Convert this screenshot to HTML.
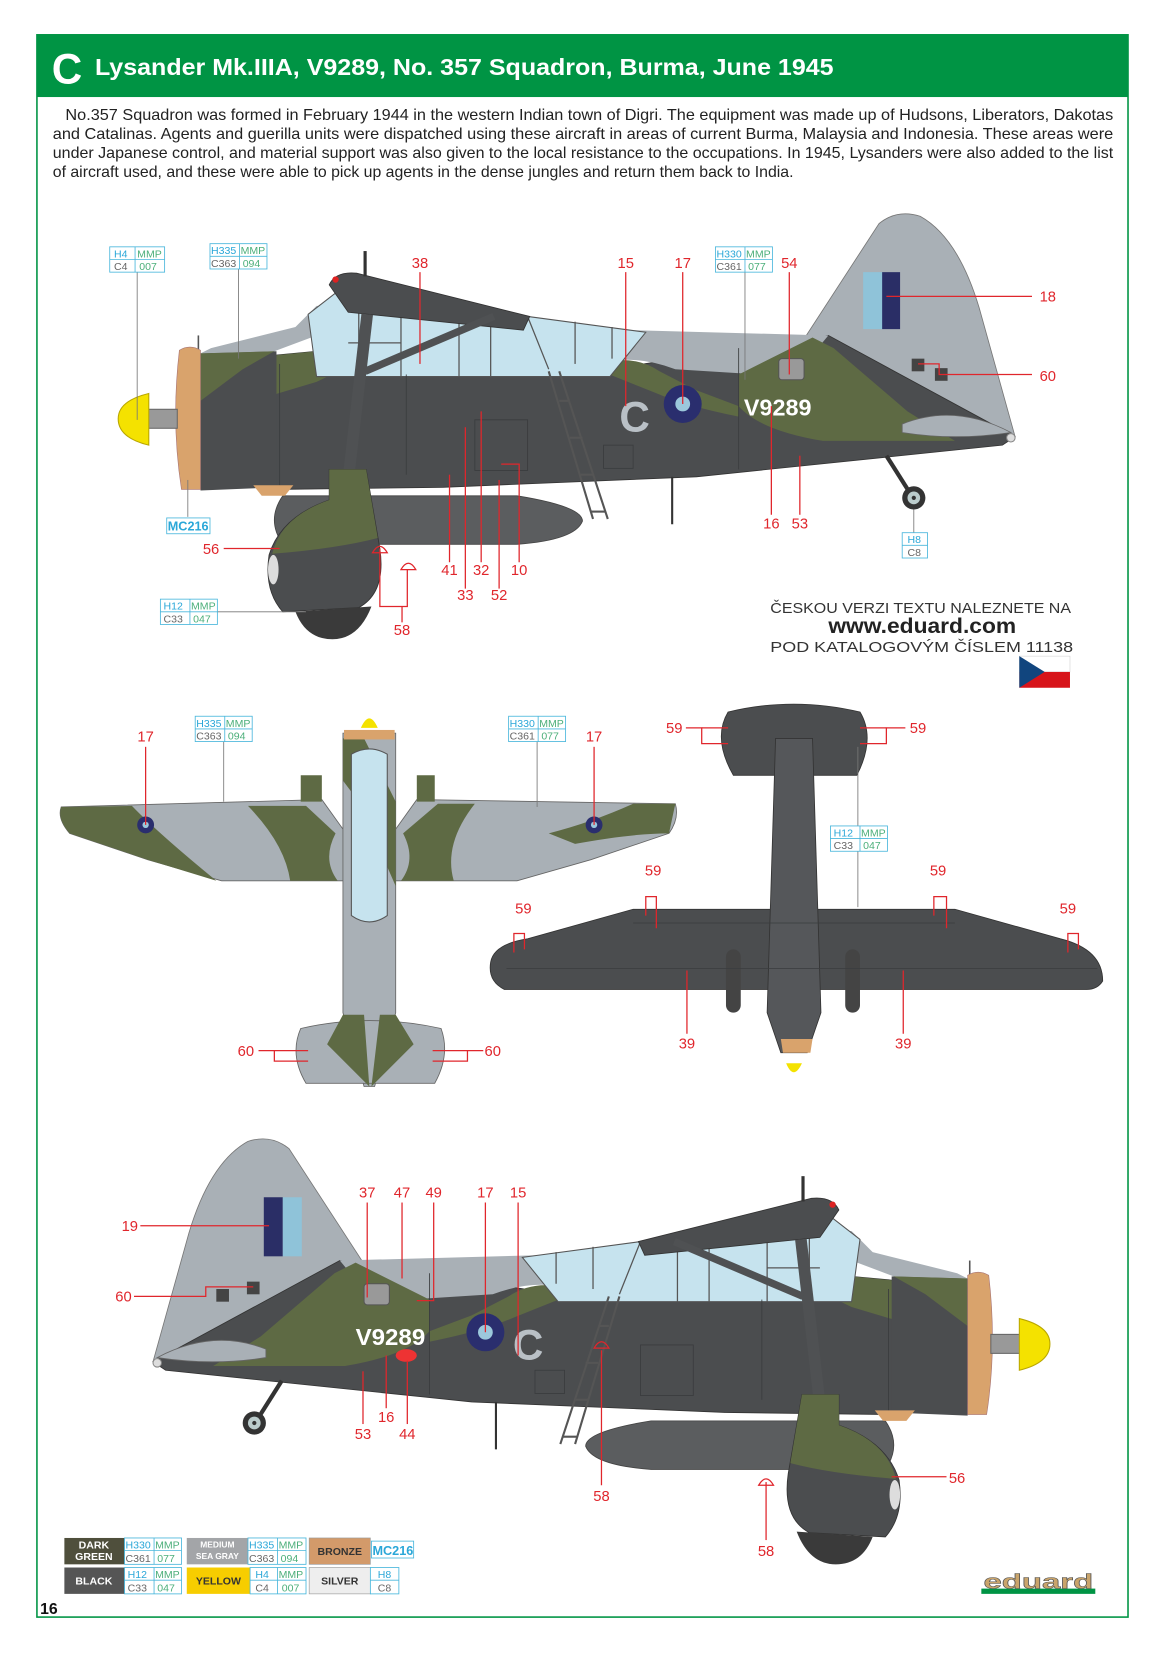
<!DOCTYPE html>
<html><head><meta charset="utf-8"><style>html,body{margin:0;padding:0;background:#fff}svg{display:block}</style></head>
<body>
<svg width="1166" height="1654" viewBox="0 0 1105 1568" preserveAspectRatio="none" xmlns="http://www.w3.org/2000/svg" font-family="Liberation Sans, sans-serif">
<defs>
<g id="side">
  <!-- drop tank -->
  <path d="M268,470 L490,470 Q552,480 552,494 Q545,512 490,516 L268,516 Q252,493 268,470 Z" fill="#5b5d5f" stroke="#444" stroke-width="0.8"/>
  <!-- fin -->
  <path d="M755,332 L833,212 Q850,198 872,205 Q908,225 928,292 L962,414 L890,422 L755,402 Z" fill="#a9b0b6" stroke="#777" stroke-width="0.8"/>
  <!-- fuselage -->
  <path d="M172,345 L300,333 L610,345 L785,318 L962,414 L950,422 L660,452 L420,462 L262,464 L178,452 Z" fill="#4b4d4f" stroke="#333" stroke-width="0.8"/>
  <!-- grey top behind canopy -->
  <path d="M560,312 L785,318 L775,330 L720,355 L640,350 Q600,335 565,345 Z" fill="#a9b0b6"/>
  <!-- green blobs -->
  <path d="M700,355 L770,320 L790,330 L860,390 L905,418 L780,418 Q720,408 700,385 Z" fill="#5e6a44"/>
  <path d="M565,345 Q600,335 625,352 L660,370 L700,385 L700,395 Q650,385 620,372 L570,352 Z" fill="#5e6a44"/>
  <path d="M178,345 L300,333 L360,333 L300,362 L200,392 L178,400 Z" fill="#5e6a44"/>
  <path d="M190,335 L260,333 L300,318 L320,290 L300,290 L280,310 L200,330 Z" fill="#a9b0b6"/>
  <!-- canopy -->
  <path d="M292,298 L328,270 L500,300 L612,315 L578,357 L300,357 Z" fill="#c6e3ee" stroke="#555" stroke-width="1"/>
  <g stroke="#555" stroke-width="1.2" fill="none">
    <line x1="340" y1="290" x2="340" y2="357"/><line x1="380" y1="296" x2="380" y2="357"/>
    <line x1="435" y1="300" x2="435" y2="357"/><line x1="465" y1="300" x2="465" y2="357"/>
    <line x1="500" y1="300" x2="520" y2="350"/><line x1="545" y1="305" x2="545" y2="345"/>
    <line x1="580" y1="310" x2="580" y2="340"/><line x1="330" y1="325" x2="380" y2="325"/>
  </g>
  <!-- upper wing -->
  <path d="M312,270 Q318,257 338,259 L502,300 L496,313 L330,296 Z" fill="#4b4d4f" stroke="#333" stroke-width="0.8"/>
  <circle cx="318" cy="265" r="3" fill="#d22"/>
  <!-- antennas -->
  <line x1="346" y1="238" x2="346" y2="262" stroke="#333" stroke-width="3"/>
  <line x1="637" y1="452" x2="637" y2="497" stroke="#333" stroke-width="2"/>
  <line x1="188" y1="318" x2="188" y2="335" stroke="#555" stroke-width="1.5"/>
  <!-- ladder -->
  <g stroke="#555" stroke-width="2"><line x1="520" y1="352" x2="562" y2="492"/><line x1="530" y1="352" x2="576" y2="492"/>
  <line x1="530" y1="380" x2="540" y2="380"/><line x1="540" y1="415" x2="552" y2="415"/><line x1="550" y1="450" x2="562" y2="450"/><line x1="560" y1="485" x2="574" y2="485"/></g>
  <!-- panels -->
  <g stroke="#3a3c3e" stroke-width="0.8" fill="none">
    <rect x="450" y="398" width="50" height="48"/><rect x="572" y="422" width="28" height="22"/>
    <line x1="385" y1="355" x2="385" y2="450"/><line x1="245" y1="345" x2="245" y2="460"/><line x1="265" y1="345" x2="265" y2="460"/>
    <line x1="700" y1="330" x2="700" y2="445"/>
  </g>
  <!-- strut -->
  <line x1="348" y1="298" x2="330" y2="455" stroke="#4f5153" stroke-width="11"/>
  <line x1="346" y1="352" x2="468" y2="300" stroke="#4f5153" stroke-width="7"/>
  <!-- tailplane -->
  <path d="M855,402 Q905,382 958,410 Q905,418 855,410 Z" fill="#a9b0b6" stroke="#666" stroke-width="0.8"/>
  <circle cx="958" cy="415" r="4" fill="#ddd" stroke="#888"/>
  <!-- exhaust box -->
  <rect x="738" y="340" width="24" height="20" rx="3" fill="#999" stroke="#555"/>
  <!-- tail wheel -->
  <line x1="840" y1="432" x2="864" y2="470" stroke="#333" stroke-width="4"/>
  <circle cx="866" cy="472" r="11" fill="#333"/><circle cx="866" cy="472" r="6" fill="#bcc"/><circle cx="866" cy="472" r="2" fill="#333"/>
  <!-- cowl -->
  <path d="M190,335 L262,333 L262,462 L190,465 Z" fill="#4b4d4f"/>
  <path d="M190,335 L260,333 L230,350 L190,380 Z" fill="#5e6a44"/>
  <path d="M170,332 Q180,326 190,332 L190,464 L172,464 Q162,400 170,332 Z" fill="#d9a36c" stroke="#a77" stroke-width="0.6"/>
  <path d="M240,460 L278,460 L270,470 L248,470 Z" fill="#d9a36c"/>
  <rect x="140" y="388" width="28" height="18" fill="#999" stroke="#666"/>
  <path d="M141,373 Q112,380 112,397 Q112,415 141,422 Z" fill="#f4e200" stroke="#b9a600"/>
  <!-- spat -->
  <path d="M312,445 L347,445 L360,520 Q366,562 340,576 L268,580 Q250,560 255,526 Q266,490 312,474 Z" fill="#4b4d4f" stroke="#333" stroke-width="0.8"/>
  <path d="M312,445 L347,445 L358,510 Q320,520 258,525 Q266,490 312,474 Z" fill="#5e6a44"/>
  <ellipse cx="259" cy="540" rx="5" ry="14" fill="#ddd"/>
  <path d="M280,580 Q290,606 315,606 Q340,606 352,575 Z" fill="#3a3a3a"/>
</g>
</defs>

<rect x="0" y="0" width="1105" height="1568" fill="#fff"/>
<rect x="35" y="33" width="1034" height="1500" fill="none" stroke="#009444" stroke-width="1.5"/>
<rect x="35" y="33" width="1034" height="59" fill="#009444"/>
<text x="49" y="79" font-size="40" font-weight="bold" fill="#fff">C</text>
<text x="90" y="71" font-size="22" font-weight="bold" fill="#fff" textLength="700" lengthAdjust="spacingAndGlyphs">Lysander Mk.IIIA, V9289, No. 357 Squadron, Burma, June 1945</text>
<g font-size="14.5" fill="#222">
<text x="62" y="114" textLength="993" lengthAdjust="spacingAndGlyphs">No.357 Squadron was formed in February 1944 in the western Indian town of Digri. The equipment was made up of Hudsons, Liberators, Dakotas</text>
<text x="50" y="132" textLength="1005" lengthAdjust="spacingAndGlyphs">and Catalinas. Agents and guerilla units were dispatched using these aircraft in areas of current Burma, Malaysia and Indonesia. These areas were</text>
<text x="50" y="150" textLength="1005" lengthAdjust="spacingAndGlyphs">under Japanese control, and material support was also given to the local resistance to the occupations. In 1945, Lysanders were also added to the list</text>
<text x="50" y="168" textLength="702" lengthAdjust="spacingAndGlyphs">of aircraft used, and these were able to pick up agents in the dense jungles and return them back to India.</text>
</g>

<!-- top side view -->
<use href="#side"/>
<rect x="818" y="258" width="20" height="54" fill="#8fc3d9"/><rect x="836" y="258" width="17" height="54" fill="#2a2e66"/>
<rect x="864" y="340" width="12" height="12" fill="#444"/><rect x="886" y="349" width="12" height="12" fill="#444"/>
<text x="587" y="409" font-size="40" fill="#b9c0c6" font-weight="bold">C</text>
<circle cx="647" cy="383" r="18" fill="#2a2e6e"/><circle cx="647" cy="383" r="7" fill="#9cc8dc"/>
<text x="705" y="394" font-size="22" font-weight="bold" fill="#fff" textLength="64" lengthAdjust="spacingAndGlyphs">V9289</text>

<!-- bottom side view (mirrored) -->
<g transform="translate(1107,877) scale(-1,1)"><use href="#side"/></g>
<rect x="250" y="1135" width="18" height="56" fill="#2a2e66"/><rect x="268" y="1135" width="18" height="56" fill="#8fc3d9"/>
<rect x="205" y="1222" width="12" height="12" fill="#444"/><rect x="234" y="1215" width="12" height="12" fill="#444"/>
<text x="486" y="1289" font-size="40" fill="#b9c0c6" font-weight="bold">C</text>
<circle cx="460" cy="1263" r="18" fill="#2a2e6e"/><circle cx="460" cy="1263" r="7" fill="#9cc8dc"/>
<text x="337" y="1275" font-size="22" font-weight="bold" fill="#fff" textLength="66" lengthAdjust="spacingAndGlyphs">V9289</text>
<ellipse cx="385" cy="1285" rx="10" ry="6" fill="#e33"/>

<!-- top view (left) -->
<path d="M58,765 L305,758 L335,800 L365,800 L395,758 L640,762 Q644,776 634,790 L560,815 L490,835 L210,835 L140,815 L66,790 Q54,776 58,765 Z" fill="#a9b0b6" stroke="#666" stroke-width="0.8"/>
<g fill="#5e6a44">
<path d="M58,765 L125,764 Q150,790 205,835 L140,815 L66,790 Q54,776 58,765 Z"/>
<path d="M235,764 L290,764 L318,790 Q305,815 320,835 L275,835 Q270,800 235,764 Z"/>
<path d="M640,762 L600,762 Q560,780 520,790 L545,800 Q600,790 634,790 Z"/>
<path d="M450,762 L415,762 L382,790 Q395,815 380,835 L430,835 Q420,800 450,762 Z"/>
<path d="M285,735 L305,735 L305,760 L285,760 Z"/><path d="M395,735 L412,735 L412,760 L395,760 Z"/>
</g>
<path d="M325,695 L375,695 L375,960 L355,1030 L345,1030 L325,960 Z" fill="#a9b0b6" stroke="#666" stroke-width="0.8"/>
<path d="M325,700 L345,700 L375,760 L375,840 L340,760 L325,740 Z" fill="#5e6a44"/>
<path d="M285,975 Q350,960 418,975 Q427,1000 412,1027 L290,1027 Q274,1000 285,975 Z" fill="#a9b0b6" stroke="#666" stroke-width="0.8"/>
<path d="M325,962 L345,962 L350,1030 L310,990 Z M375,962 L360,962 L352,1030 L392,990 Z" fill="#5e6a44"/>
<path d="M333,715 Q350,705 367,715 L367,868 Q350,880 333,868 Z" fill="#c6e3ee" stroke="#555"/>
<rect x="326" y="692" width="48" height="9" fill="#d9a36c"/>
<path d="M342,690 Q350,672 358,690 Z" fill="#f4e200"/>
<circle cx="138" cy="782" r="8" fill="#2a2e6e"/><circle cx="138" cy="782" r="3" fill="#9cc8dc"/>
<circle cx="563" cy="782" r="8" fill="#2a2e6e"/><circle cx="563" cy="782" r="3" fill="#9cc8dc"/>

<!-- bottom view (right) -->
<path d="M690,675 Q752,660 815,675 Q830,700 812,735 L695,735 Q675,700 690,675 Z" fill="#4b4d4f" stroke="#333" stroke-width="0.8"/>
<path d="M465,912 Q468,895 500,890 L600,862 L905,862 L1005,890 Q1045,900 1045,930 Q1040,938 1030,938 L478,938 Q462,930 465,912 Z" fill="#4b4d4f" stroke="#333" stroke-width="0.8"/>
<path d="M735,700 L770,700 L778,960 L765,998 L740,998 L727,960 Z" fill="#55575a" stroke="#333" stroke-width="0.8"/>
<rect x="688" y="900" width="14" height="60" rx="7" fill="#444"/><rect x="801" y="900" width="14" height="60" rx="7" fill="#444"/>
<g stroke="#3a3c3e" stroke-width="0.7"><line x1="480" y1="918" x2="1040" y2="918"/><line x1="600" y1="875" x2="905" y2="875"/></g>
<path d="M740,985 L770,985 L768,998 L742,998 Z" fill="#d9a36c"/>
<path d="M745,1008 Q752,1025 760,1008 Z" fill="#f4e200"/>

<!-- callouts -->
<g stroke="#e0262c" stroke-width="1.2" fill="none">
<line x1="398" y1="258" x2="398" y2="345"/><line x1="593" y1="258" x2="593" y2="385"/><line x1="647" y1="258" x2="647" y2="383"/>
<line x1="748" y1="258" x2="748" y2="355"/><line x1="840" y1="281" x2="978" y2="281"/>
<polyline points="870,345 890,345 890,355 978,355"/>
<line x1="731" y1="488" x2="731" y2="385"/><line x1="758" y1="488" x2="758" y2="432"/>
<line x1="426" y1="533" x2="426" y2="450"/><line x1="456" y1="533" x2="456" y2="390"/><polyline points="492,533 492,440 475,440"/>
<line x1="441" y1="558" x2="441" y2="405"/><line x1="473" y1="558" x2="473" y2="455"/>
<line x1="212" y1="520" x2="265" y2="520"/>
<polyline points="360,520 360,575 386,575 386,540"/><line x1="381" y1="575" x2="381" y2="590"/>
<line x1="138" y1="708" x2="138" y2="782"/><line x1="563" y1="708" x2="563" y2="782"/>
<polyline points="245,996 260,996 260,1006 292,1006"/><line x1="260" y1="996" x2="292" y2="996"/>
<polyline points="458,996 443,996 443,1006 410,1006"/><line x1="443" y1="996" x2="410" y2="996"/>
<polyline points="650,690 665,690 665,705 690,705"/><line x1="665" y1="690" x2="690" y2="690"/>
<polyline points="858,690 840,690 840,705 815,705"/><line x1="840" y1="690" x2="815" y2="690"/>
<polyline points="612,868 612,850 622,850 622,880"/><polyline points="487,903 487,885 497,885 497,900"/>
<polyline points="885,868 885,850 897,850 897,880"/><polyline points="1012,903 1012,885 1022,885 1022,900"/>
<line x1="651" y1="980" x2="651" y2="920"/><line x1="856" y1="980" x2="856" y2="920"/>
<line x1="133" y1="1162" x2="255" y2="1162"/><polyline points="127,1229 195,1229 195,1220 240,1220"/>
<line x1="348" y1="1140" x2="348" y2="1230"/><line x1="381" y1="1140" x2="381" y2="1212"/><polyline points="411,1140 411,1233 395,1233"/>
<line x1="460" y1="1140" x2="460" y2="1263"/><line x1="491" y1="1140" x2="491" y2="1285"/>
<line x1="344" y1="1350" x2="344" y2="1300"/><line x1="366" y1="1335" x2="366" y2="1285"/><line x1="386" y1="1350" x2="386" y2="1290"/>
<line x1="570" y1="1408" x2="570" y2="1280"/><line x1="726" y1="1460" x2="726" y2="1405"/><line x1="897" y1="1400" x2="845" y2="1400"/>
<path d="M353,524 Q360,512 367,524 Z M380,540 Q387,528 394,540 Z M563,1278 Q570,1266 577,1278 Z M719,1408 Q726,1396 733,1408 Z"/>
</g>
<g fill="#e0262c" font-size="14" text-anchor="middle">
<text x="398" y="254">38</text><text x="593" y="254">15</text><text x="647" y="254">17</text><text x="748" y="254">54</text>
<text x="993" y="286">18</text><text x="993" y="361">60</text><text x="731" y="501">16</text><text x="758" y="501">53</text>
<text x="426" y="545">41</text><text x="456" y="545">32</text><text x="492" y="545">10</text><text x="441" y="569">33</text><text x="473" y="569">52</text>
<text x="200" y="525">56</text><text x="381" y="602">58</text>
<text x="138" y="703">17</text><text x="563" y="703">17</text><text x="233" y="1001">60</text><text x="467" y="1001">60</text>
<text x="639" y="695">59</text><text x="870" y="695">59</text><text x="619" y="830">59</text><text x="496" y="866">59</text>
<text x="889" y="830">59</text><text x="1012" y="866">59</text><text x="651" y="994">39</text><text x="856" y="994">39</text>
<text x="123" y="1167">19</text><text x="117" y="1234">60</text><text x="348" y="1135">37</text><text x="381" y="1135">47</text>
<text x="411" y="1135">49</text><text x="460" y="1135">17</text><text x="491" y="1135">15</text>
<text x="344" y="1364">53</text><text x="366" y="1348">16</text><text x="386" y="1364">44</text>
<text x="570" y="1423">58</text><text x="726" y="1475">58</text><text x="907" y="1406">56</text>
</g>

<!-- code leader lines -->
<g stroke="#777" stroke-width="0.8">
<line x1="130" y1="258" x2="130" y2="398"/><line x1="226" y1="255" x2="226" y2="340"/><line x1="706" y1="258" x2="706" y2="360"/>
<line x1="178" y1="455" x2="178" y2="490"/><line x1="205" y1="580" x2="290" y2="580"/><line x1="866" y1="483" x2="866" y2="505"/>
<line x1="212" y1="703" x2="212" y2="760"/><line x1="509" y1="703" x2="509" y2="765"/><line x1="813" y1="708" x2="813" y2="860"/>
</g>

<!-- code boxes -->
<g font-size="10" stroke-width="0.8">
<g transform="translate(104,234)"><rect width="52" height="24" fill="#fff" stroke="#4ab7dc"/><line x1="24" y1="0" x2="24" y2="24" stroke="#4ab7dc"/><line x1="0" y1="12" x2="52" y2="12" stroke="#4ab7dc"/><text x="4" y="10" fill="#2aa7d8">H4</text><text x="26" y="10" fill="#4caf7a">MMP</text><text x="4" y="22" fill="#666">C4</text><text x="28" y="22" fill="#4caf7a">007</text></g>
<g transform="translate(199,231)"><rect width="54" height="24" fill="#fff" stroke="#4ab7dc"/><line x1="28" y1="0" x2="28" y2="24" stroke="#4ab7dc"/><line x1="0" y1="12" x2="54" y2="12" stroke="#4ab7dc"/><text x="1" y="10" fill="#2aa7d8">H335</text><text x="29" y="10" fill="#4caf7a">MMP</text><text x="1" y="22" fill="#666">C363</text><text x="31" y="22" fill="#4caf7a">094</text></g>
<g transform="translate(678,234)"><rect width="54" height="24" fill="#fff" stroke="#4ab7dc"/><line x1="28" y1="0" x2="28" y2="24" stroke="#4ab7dc"/><line x1="0" y1="12" x2="54" y2="12" stroke="#4ab7dc"/><text x="1" y="10" fill="#2aa7d8">H330</text><text x="29" y="10" fill="#4caf7a">MMP</text><text x="1" y="22" fill="#666">C361</text><text x="31" y="22" fill="#4caf7a">077</text></g>
<g transform="translate(152,568)"><rect width="54" height="24" fill="#fff" stroke="#4ab7dc"/><line x1="28" y1="0" x2="28" y2="24" stroke="#4ab7dc"/><line x1="0" y1="12" x2="54" y2="12" stroke="#4ab7dc"/><text x="3" y="10" fill="#2aa7d8">H12</text><text x="29" y="10" fill="#4caf7a">MMP</text><text x="3" y="22" fill="#666">C33</text><text x="31" y="22" fill="#4caf7a">047</text></g>
<g transform="translate(855,505)"><rect width="24" height="24" fill="#fff" stroke="#4ab7dc"/><line x1="0" y1="12" x2="24" y2="12" stroke="#4ab7dc"/><text x="5" y="10" fill="#2aa7d8">H8</text><text x="5" y="22" fill="#666">C8</text></g>
<g transform="translate(185,679)"><rect width="54" height="24" fill="#fff" stroke="#4ab7dc"/><line x1="28" y1="0" x2="28" y2="24" stroke="#4ab7dc"/><line x1="0" y1="12" x2="54" y2="12" stroke="#4ab7dc"/><text x="1" y="10" fill="#2aa7d8">H335</text><text x="29" y="10" fill="#4caf7a">MMP</text><text x="1" y="22" fill="#666">C363</text><text x="31" y="22" fill="#4caf7a">094</text></g>
<g transform="translate(482,679)"><rect width="54" height="24" fill="#fff" stroke="#4ab7dc"/><line x1="28" y1="0" x2="28" y2="24" stroke="#4ab7dc"/><line x1="0" y1="12" x2="54" y2="12" stroke="#4ab7dc"/><text x="1" y="10" fill="#2aa7d8">H330</text><text x="29" y="10" fill="#4caf7a">MMP</text><text x="1" y="22" fill="#666">C361</text><text x="31" y="22" fill="#4caf7a">077</text></g>
<g transform="translate(787,783)"><rect width="54" height="24" fill="#fff" stroke="#4ab7dc"/><line x1="28" y1="0" x2="28" y2="24" stroke="#4ab7dc"/><line x1="0" y1="12" x2="54" y2="12" stroke="#4ab7dc"/><text x="3" y="10" fill="#2aa7d8">H12</text><text x="29" y="10" fill="#4caf7a">MMP</text><text x="3" y="22" fill="#666">C33</text><text x="31" y="22" fill="#4caf7a">047</text></g>
</g>
<text x="159" y="503" font-size="12" font-weight="bold" fill="#2aa7d8">MC216</text>
<rect x="158" y="491" width="41" height="15" fill="none" stroke="#4ab7dc" stroke-width="0.8"/>

<!-- Czech note -->
<text x="730" y="581" font-size="14" fill="#333" textLength="285" lengthAdjust="spacingAndGlyphs">ČESKOU VERZI TEXTU NALEZNETE NA</text>
<text x="785" y="600" font-size="20" font-weight="bold" fill="#222" textLength="178" lengthAdjust="spacingAndGlyphs">www.eduard.com</text>
<text x="730" y="618" font-size="14" fill="#333" textLength="287" lengthAdjust="spacingAndGlyphs">POD KATALOGOVÝM ČÍSLEM 11138</text>
<rect x="966" y="622" width="48" height="15" fill="#fff" stroke="#ccc" stroke-width="0.5"/><rect x="966" y="637" width="48" height="15" fill="#d7141a"/>
<path d="M966,622 L990,637 L966,652 Z" fill="#11457e"/>

<!-- legend -->
<g font-size="10" font-weight="bold" text-anchor="middle">
<rect x="61" y="1458" width="57" height="25" fill="#4f4f3c"/><text x="89" y="1468" fill="#fff">DARK</text><text x="89" y="1479" fill="#fff">GREEN</text>
<rect x="177" y="1458" width="58" height="25" fill="#a3a5a8"/><text x="206" y="1467" fill="#fff" font-size="8">MEDIUM</text><text x="206" y="1478" fill="#fff" font-size="8">SEA GRAY</text>
<rect x="293" y="1458" width="58" height="25" fill="#d39a6a" stroke="#999" stroke-width="0.6"/><text x="322" y="1474" fill="#333">BRONZE</text>
<rect x="61" y="1486" width="57" height="25" fill="#555"/><text x="89" y="1502" fill="#fff">BLACK</text>
<rect x="177" y="1486" width="60" height="25" fill="#f7cd00"/><text x="207" y="1502" fill="#333">YELLOW</text>
<rect x="293" y="1486" width="58" height="25" fill="#eee" stroke="#999" stroke-width="0.6"/><text x="322" y="1502" fill="#333">SILVER</text>
</g>
<g font-size="10" stroke-width="0.8">
<g transform="translate(118,1458)"><rect width="54" height="25" fill="#fff" stroke="#4ab7dc"/><line x1="28" y1="0" x2="28" y2="25" stroke="#4ab7dc"/><line x1="0" y1="12" x2="54" y2="12" stroke="#4ab7dc"/><text x="1" y="10" fill="#2aa7d8">H330</text><text x="29" y="10" fill="#4caf7a">MMP</text><text x="1" y="23" fill="#666">C361</text><text x="31" y="23" fill="#4caf7a">077</text></g>
<g transform="translate(235,1458)"><rect width="55" height="25" fill="#fff" stroke="#4ab7dc"/><line x1="28" y1="0" x2="28" y2="25" stroke="#4ab7dc"/><line x1="0" y1="12" x2="55" y2="12" stroke="#4ab7dc"/><text x="1" y="10" fill="#2aa7d8">H335</text><text x="29" y="10" fill="#4caf7a">MMP</text><text x="1" y="23" fill="#666">C363</text><text x="31" y="23" fill="#4caf7a">094</text></g>
<g transform="translate(118,1486)"><rect width="54" height="25" fill="#fff" stroke="#4ab7dc"/><line x1="28" y1="0" x2="28" y2="25" stroke="#4ab7dc"/><line x1="0" y1="12" x2="54" y2="12" stroke="#4ab7dc"/><text x="3" y="10" fill="#2aa7d8">H12</text><text x="29" y="10" fill="#4caf7a">MMP</text><text x="3" y="23" fill="#666">C33</text><text x="31" y="23" fill="#4caf7a">047</text></g>
<g transform="translate(237,1486)"><rect width="53" height="25" fill="#fff" stroke="#4ab7dc"/><line x1="26" y1="0" x2="26" y2="25" stroke="#4ab7dc"/><line x1="0" y1="12" x2="53" y2="12" stroke="#4ab7dc"/><text x="5" y="10" fill="#2aa7d8">H4</text><text x="27" y="10" fill="#4caf7a">MMP</text><text x="5" y="23" fill="#666">C4</text><text x="30" y="23" fill="#4caf7a">007</text></g>
<g transform="translate(351,1486)"><rect width="27" height="25" fill="#fff" stroke="#4ab7dc"/><line x1="0" y1="12" x2="27" y2="12" stroke="#4ab7dc"/><text x="7" y="10" fill="#2aa7d8">H8</text><text x="7" y="23" fill="#666">C8</text></g>
</g>
<rect x="352" y="1461" width="40" height="16" fill="#fff" stroke="#4ab7dc" stroke-width="0.8"/>
<text x="353" y="1474" font-size="12" font-weight="bold" fill="#2aa7d8">MC216</text>
<text x="38" y="1530" font-size="15" font-weight="bold" fill="#111">16</text>
<rect x="930" y="1506" width="108" height="5" fill="#009444"/>
<text x="984" y="1506" font-size="19" font-weight="bold" fill="#c9a46b" stroke="#555" stroke-width="0.5" text-anchor="middle" textLength="104" lengthAdjust="spacingAndGlyphs">eduard</text>
</svg>
</body></html>
